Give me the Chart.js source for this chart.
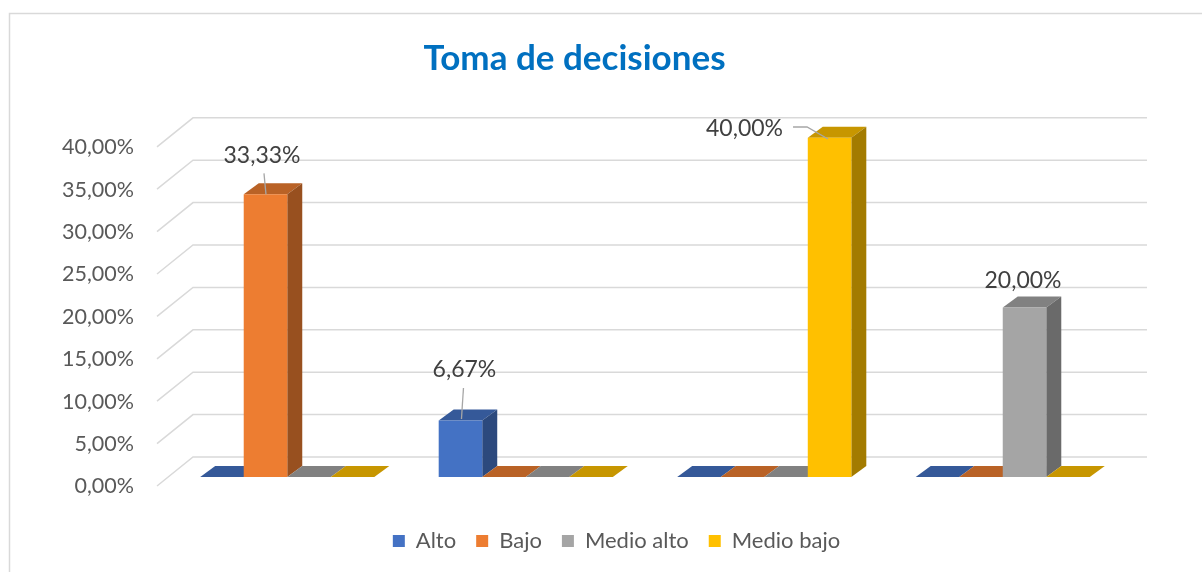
<!DOCTYPE html>
<html><head><meta charset="utf-8">
<script src="https://cdn.jsdelivr.net/npm/chart.js@4.4.1/dist/chart.umd.min.js"></script>
<style>html,body{margin:0;padding:0;background:#fff;} canvas{display:block;}</style>
</head><body>
<canvas id="c" width="1202" height="572"></canvas>
<script>
// ---- data ----
const categories = ['1', '2', '3', '4'];
const seriesNames = ['Alto', 'Bajo', 'Medio alto', 'Medio bajo'];
const alto      = [0, 6.67, 0, 0];
const bajo      = [33.33, 0, 0, 0];
const medioAlto = [0, 0, 0, 20];
const medioBajo = [0, 0, 40, 0];
const yTickValues = [0, 5, 10, 15, 20, 25, 30, 35, 40];
const yTickLabels = ['0,00%', '5,00%', '10,00%', '15,00%', '20,00%', '25,00%', '30,00%', '35,00%', '40,00%'];
const titleText = 'Toma de decisiones';

const colors = ['#4472C4', '#ED7D31', '#A5A5A5', '#FFC000'];

function shade(hex, f) {
  const n = parseInt(hex.slice(1), 16);
  const r = Math.round(((n >> 16) & 255) * f), g = Math.round(((n >> 8) & 255) * f), b = Math.round((n & 255) * f);
  return 'rgb(' + r + ',' + g + ',' + b + ')';
}
function fmt(v) { return v.toFixed(2).replace('.', ',') + '%'; }

const threeD = {
  id: 'threeD',
  beforeDraw(chart) {
    const ctx = chart.ctx;
    ctx.save();
    ctx.strokeStyle = '#D9D9D9';
    ctx.lineWidth = 1.5;
    ctx.strokeRect(9.5, 13.5, 1400, 800);
    ctx.restore();
  },
  beforeDatasetsDraw(chart, args, o) {
    const ctx = chart.ctx, a = chart.chartArea, ys = chart.scales.y;
    ctx.save();
    ctx.strokeStyle = '#D9D9D9';
    ctx.lineWidth = 1.5;
    ys.ticks.forEach(t => {
      const py = ys.getPixelForValue(t.value);
      ctx.beginPath();
      ctx.moveTo(a.left - o.frontDx, py + o.frontDy);
      ctx.lineTo(a.left + o.backDx, py - o.backDy);
      ctx.lineTo(a.right + o.backDx, py - o.backDy);
      ctx.stroke();
    });
    const n = chart.data.labels.length;
    for (let i = 0; i < n; i++) {
      chart.data.datasets.forEach((ds, d) => {
        const el = chart.getDatasetMeta(d).data[i];
        const p = el.getProps(['x', 'y', 'base', 'width'], true);
        const l = p.x - p.width / 2, r = p.x + p.width / 2;
        const top = Math.min(p.y, p.base), bot = p.base;
        const dx = o.barDx, dy = o.barDy;
        ctx.fillStyle = shade(colors[d], 0.78);
        ctx.beginPath();
        ctx.moveTo(l, top); ctx.lineTo(r, top); ctx.lineTo(r + dx, top - dy); ctx.lineTo(l + dx, top - dy);
        ctx.closePath(); ctx.fill();
        if (bot - top > 0.5) {
          ctx.fillStyle = shade(colors[d], 0.64);
          ctx.beginPath();
          ctx.moveTo(r, top); ctx.lineTo(r + dx, top - dy); ctx.lineTo(r + dx, bot - dy); ctx.lineTo(r, bot);
          ctx.closePath(); ctx.fill();
        }
      });
    }
    ctx.restore();
  },
  afterDatasetsDraw(chart, args, o) {
    const ctx = chart.ctx;
    ctx.save();
    ctx.font = '23px Lato';
    ctx.fillStyle = '#404040';
    ctx.textAlign = 'center';
    ctx.textBaseline = 'middle';
    o.labels.forEach(lb => {
      const el = chart.getDatasetMeta(lb.ds).data[lb.i];
      const v = chart.data.datasets[lb.ds].data[lb.i];
      const p = el.getProps(['x', 'y'], true);
      if (lb.leader) {
        ctx.strokeStyle = '#A6A6A6';
        ctx.lineWidth = 1.3;
        ctx.beginPath();
        lb.leader.forEach((pt, k) => { if (k === 0) ctx.moveTo(p.x + pt[0], p.y + pt[1]); else ctx.lineTo(p.x + pt[0], p.y + pt[1]); });
        ctx.stroke();
      }
      ctx.fillText(fmt(v), p.x + lb.dx, p.y + lb.dy);
    });
    ctx.restore();
  },
  beforeLayout(chart) {
    const lg = chart.legend;
    if (lg && !lg.__patched) {
      const f = lg.fit;
      lg.fit = function () { f.call(this); this.height = 95; };
      lg.__patched = true;
    }
  },
  afterLayout(chart, args, o) {
    if (chart.titleBlock) { chart.titleBlock.left += o.titleShift; chart.titleBlock.right += o.titleShift; }
    if (chart.legend) {
      chart.legend.left += o.legendShiftX; chart.legend.right += o.legendShiftX;
      chart.legend.top += o.legendShiftY; chart.legend.bottom += o.legendShiftY;
    }
  }
};

const seriesData = [alto, bajo, medioAlto, medioBajo];

new Chart(document.getElementById('c'), {
  type: 'bar',
  data: {
    labels: categories,
    datasets: seriesNames.map((name, k) => ({
      label: name,
      data: seriesData[k],
      backgroundColor: colors[k],
      borderWidth: 0,
      categoryPercentage: 0.73,
      barPercentage: 1.0,
      clip: false
    }))
  },
  options: {
    responsive: false,
    animation: false,
    events: [],
    layout: { padding: { left: 0, right: 80, top: 0, bottom: 0 } },
    scales: {
      x: { display: false },
      y: {
        min: 0, max: 40,
        grid: { display: false, drawTicks: false },
        border: { display: false },
        afterFit(s) { s.width = 168; },
        afterBuildTicks(s) { s.ticks = yTickValues.map(v => ({ value: v })); },
        ticks: {
          callback: (v, i) => yTickLabels[i],
          padding: 34,
          labelOffset: 9.5,
          color: '#595959',
          font: { family: 'Lato', size: 21.5 }
        }
      }
    },
    plugins: {
      title: {
        display: true,
        text: titleText,
        color: '#0070C0',
        font: { family: 'Lato', size: 35, weight: 'bold', lineHeight: 1.2 },
        padding: { top: 38, bottom: 57.8 }
      },
      legend: {
        display: true,
        position: 'bottom',
        labels: {
          boxWidth: 12, boxHeight: 12, padding: 20,
          color: '#595959',
          font: { family: 'Lato', size: 22 }
        }
      },
      tooltip: { enabled: false },
      threeD: {
        frontDx: 11, frontDy: 9, backDx: 25, backDy: 20, barDx: 15, barDy: 11,
        titleShift: 13.5, legendShiftX: 55.5, legendShiftY: 33,
        labels: [
          { ds: 1, i: 0, dx: -3.5, dy: -39, leader: [[-1.5, -21], [0.5, 0]] },
          { ds: 0, i: 1, dx: 4, dy: -51, leader: [[3, -32.5], [1, -1.5]] },
          { ds: 3, i: 2, dx: -85, dy: -9.3, leader: [[-36.5, -10.8], [-22.5, -10.8], [-1.5, 1.2]] },
          { ds: 2, i: 3, dx: -1.5, dy: -26.4 }
        ]
      }
    }
  },
  plugins: [threeD]
});
</script>
</body></html>
